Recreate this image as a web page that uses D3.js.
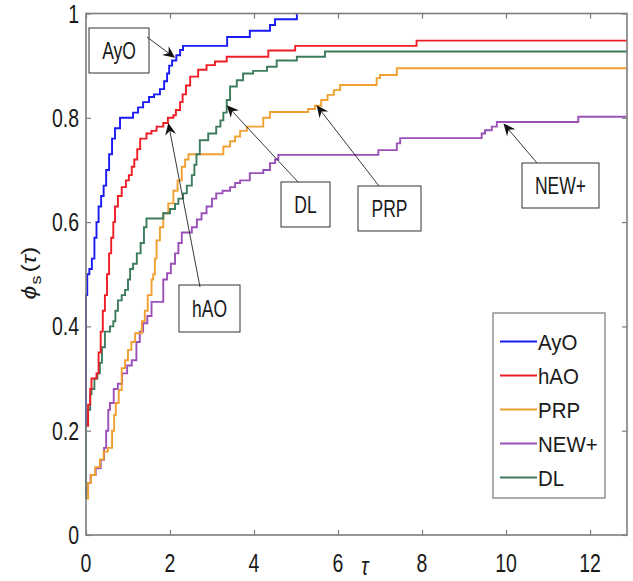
<!DOCTYPE html>
<html>
<head>
<meta charset="utf-8">
<script src="https://cdn.jsdelivr.net/npm/d3@7/dist/d3.min.js"></script>
<style>
  body { margin: 0; background: #fff; }
  text { font-family: "Liberation Sans", Arial, sans-serif; fill: #1a1a1a; }
</style>
</head>
<body>
<svg id="chart" width="633" height="581"></svg>
<script>
// performance profiles
var names = ["AyO", "hAO", "PRP", "NEW+", "DL"];

var ayoTau = [0, 0, 0.03, 0.08, 0.14, 0.2, 0.25, 0.3, 0.36, 0.42, 0.48, 0.55, 0.62, 0.69, 0.81, 1.12, 1.24, 1.36, 1.5, 1.62, 1.76, 1.86, 1.93, 1.98, 2.05, 2.15, 2.24, 2.31, 3.36, 3.9, 4.38, 4.5, 5.02];
var ayoPhi = [0.21, 0.46, 0.5, 0.51, 0.53, 0.57, 0.6, 0.63, 0.65, 0.67, 0.7, 0.73, 0.76, 0.78, 0.8, 0.81, 0.82, 0.83, 0.84, 0.845, 0.855, 0.87, 0.885, 0.9, 0.91, 0.92, 0.93, 0.938, 0.955, 0.967, 0.978, 0.989, 1.0];

var haoTau = [0, 0.05, 0.1, 0.13, 0.25, 0.3, 0.35, 0.4, 0.45, 0.5, 0.55, 0.6, 0.65, 0.69, 0.76, 0.85, 0.95, 1.02, 1.09, 1.15, 1.22, 1.29, 1.44, 1.56, 1.68, 1.84, 1.95, 2.08, 2.14, 2.24, 2.3, 2.38, 2.48, 2.67, 2.87, 3.07, 3.35, 4.34, 4.98, 7.87, 12.88];
var haoPhi = [0.21, 0.25, 0.28, 0.3, 0.31, 0.35, 0.39, 0.43, 0.46, 0.5, 0.54, 0.57, 0.6, 0.63, 0.65, 0.667, 0.68, 0.69, 0.706, 0.72, 0.74, 0.76, 0.77, 0.775, 0.783, 0.79, 0.8, 0.805, 0.815, 0.83, 0.845, 0.862, 0.879, 0.892, 0.901, 0.908, 0.917, 0.929, 0.938, 0.948, 0.948];

var prpTau = [0, 0.05, 0.12, 0.22, 0.33, 0.42, 0.52, 0.62, 0.67, 0.71, 0.78, 0.85, 0.93, 1.0, 1.08, 1.17, 1.33, 1.4, 1.47, 1.56, 1.6, 1.64, 1.68, 1.76, 1.84, 1.96, 2.08, 2.18, 2.28, 2.36, 2.44, 3.27, 3.43, 3.55, 3.67, 3.83, 4.22, 4.38, 5.29, 5.45, 5.6, 5.75, 5.9, 6.05, 6.92, 7.0, 7.4, 12.88];
var prpPhi = [0.07, 0.1, 0.115, 0.13, 0.145, 0.16, 0.167, 0.2, 0.23, 0.253, 0.278, 0.32, 0.335, 0.355, 0.37, 0.387, 0.41, 0.43, 0.46, 0.49, 0.5, 0.53, 0.565, 0.59, 0.617, 0.636, 0.66, 0.68, 0.706, 0.72, 0.73, 0.745, 0.755, 0.764, 0.775, 0.783, 0.8, 0.811, 0.817, 0.823, 0.834, 0.844, 0.853, 0.863, 0.876, 0.882, 0.895, 0.895];

var newTau = [0, 0.05, 0.11, 0.23, 0.35, 0.43, 0.48, 0.53, 0.57, 0.66, 0.76, 0.86, 0.98, 1.09, 1.2, 1.28, 1.36, 1.46, 1.56, 1.84, 1.93, 2.02, 2.12, 2.2, 2.28, 2.52, 2.64, 2.75, 2.87, 3.0, 3.1, 3.25, 3.43, 3.55, 3.67, 3.9, 4.22, 4.38, 4.5, 4.58, 6.96, 7.4, 7.48, 9.42, 9.5, 9.66, 9.78, 11.72, 12.88];
var newPhi = [0.08, 0.1, 0.115, 0.128, 0.144, 0.167, 0.2, 0.24, 0.253, 0.28, 0.29, 0.31, 0.325, 0.335, 0.37, 0.39, 0.406, 0.42, 0.447, 0.49, 0.502, 0.52, 0.54, 0.56, 0.58, 0.59, 0.605, 0.617, 0.63, 0.645, 0.655, 0.66, 0.667, 0.675, 0.68, 0.694, 0.7, 0.713, 0.72, 0.729, 0.738, 0.751, 0.761, 0.77, 0.776, 0.783, 0.792, 0.802, 0.802];

var dlTau = [0, 0, 0.05, 0.1, 0.13, 0.2, 0.27, 0.33, 0.38, 0.45, 0.57, 0.65, 0.7, 0.76, 0.85, 0.93, 1.0, 1.05, 1.12, 1.21, 1.3, 1.38, 1.44, 1.84, 2.0, 2.12, 2.2, 2.31, 2.4, 2.52, 2.58, 2.63, 2.71, 2.91, 3.1, 3.2, 3.27, 3.35, 3.43, 3.59, 3.74, 3.98, 4.31, 4.54, 5.02, 5.69, 12.88];
var dlPhi = [0.07, 0.21, 0.24, 0.27, 0.28, 0.3, 0.31, 0.33, 0.36, 0.39, 0.4, 0.41, 0.43, 0.45, 0.46, 0.47, 0.49, 0.51, 0.52, 0.54, 0.56, 0.59, 0.607, 0.617, 0.625, 0.635, 0.645, 0.655, 0.67, 0.69, 0.71, 0.73, 0.757, 0.77, 0.783, 0.795, 0.81, 0.834, 0.86, 0.872, 0.885, 0.89, 0.898, 0.91, 0.917, 0.927, 0.927];

var xTicks = [0, 2, 4, 6, 8, 10, 12];
var yTicks = [0, 0.2, 0.4, 0.6, 0.8, 1];
var yTickLabels = ["0", "0.2", "0.4", "0.6", "0.8", "1"];

// arrows of the text boxes point at these curve points
var noteNames = ["AyO", "hAO", "DL", "PRP", "NEW+"];
var noteTau = [2.12, 1.96, 3.35, 5.49, 9.94];
var notePhi = [0.915, 0.79, 0.824, 0.824, 0.789];

var colors = d3.scaleOrdinal()
  .domain(names)
  .range(["#1a1af5", "#ee1c24", "#f0a030", "#9a50b8", "#3c7c5c"]);

var series = [
  { name: "AyO", tau: ayoTau, phi: ayoPhi },
  { name: "hAO", tau: haoTau, phi: haoPhi },
  { name: "PRP", tau: prpTau, phi: prpPhi },
  { name: "NEW+", tau: newTau, phi: newPhi },
  { name: "DL", tau: dlTau, phi: dlPhi }
];

var svg = d3.select('#chart');
var plotL = 86, plotR = 627, plotT = 13.5, plotB = 535;
var squeeze = 0.78; // the picture's lettering is narrow

var x = d3.scaleLinear().domain([0, 12.88]).range([plotL, plotR]);
var y = d3.scaleLinear().domain([0, 1]).range([plotB, plotT]);

var line = d3.line()
  .curve(d3.curveStepAfter)
  .x(function(d) { return x(d[0]); })
  .y(function(d) { return y(d[1]); });

// draw the ones in the back first
var order = ["NEW+", "PRP", "DL", "hAO", "AyO"];
svg.append('g')
  .selectAll('path')
  .data(order.map(function(n) { return series[names.indexOf(n)]; }))
  .enter().append('path')
  .attr('d', function(s) {
    return line(s.tau.map(function(t, i) { return [t, s.phi[i]]; }));
  })
  .style('fill', 'none')
  .style('stroke', function(s) { return colors(s.name); })
  .style('stroke-width', 1.9);

// frame and inward ticks on all sides
var frameColor = '#7d7d7d';
svg.append('g').attr('transform', 'translate(0,' + plotB + ')')
  .call(d3.axisBottom(x).tickValues(xTicks).tickSize(-5).tickFormat(''));
svg.append('g').attr('transform', 'translate(0,' + plotT + ')')
  .call(d3.axisTop(x).tickValues(xTicks).tickSize(-5).tickFormat(''));
svg.append('g').attr('transform', 'translate(' + plotL + ',0)')
  .call(d3.axisLeft(y).tickValues(yTicks).tickSize(-5).tickFormat(''));
svg.append('g').attr('transform', 'translate(' + plotR + ',0)')
  .call(d3.axisRight(y).tickValues(yTicks).tickSize(-5).tickFormat(''));
svg.selectAll('.domain').remove();
svg.selectAll('.tick line').style('stroke', frameColor).style('stroke-width', 1.2);
svg.append('rect')
  .attr('x', plotL).attr('y', plotT)
  .attr('width', plotR - plotL).attr('height', plotB - plotT)
  .style('fill', 'none')
  .style('stroke', frameColor)
  .style('stroke-width', 1.6);

// tick labels
svg.append('g').selectAll('text')
  .data(xTicks)
  .enter().append('text')
  .attr('transform', function(d) { return 'translate(' + x(d) + ',572) scale(' + squeeze + ',1)'; })
  .attr('text-anchor', 'middle')
  .style('font-size', '25px')
  .text(function(d) { return d; });

svg.append('g').selectAll('text')
  .data(yTicks)
  .enter().append('text')
  .attr('transform', function(d) { return 'translate(79,' + (y(d) + 9) + ') scale(' + squeeze + ',1)'; })
  .attr('text-anchor', 'end')
  .style('font-size', '25px')
  .text(function(d, i) { return yTickLabels[i]; });

// axis titles
svg.append('text')
  .attr('transform', 'translate(365,575) scale(' + squeeze + ',1)')
  .attr('text-anchor', 'middle')
  .style('font-size', '25px')
  .style('font-style', 'italic')
  .text('\u03c4');

var ylab = svg.append('text')
  .attr('transform', 'translate(36,273) scale(' + squeeze + ',1) rotate(-90)')
  .attr('text-anchor', 'middle')
  .style('font-size', '25px');
ylab.append('tspan').style('font-style', 'italic').text('\u03d5');
ylab.append('tspan').attr('dy', 6).attr('dx', 1).style('font-size', '18px').text('s');
ylab.append('tspan').attr('dy', -6).attr('dx', 3).text('(');
ylab.append('tspan').style('font-style', 'italic').text('\u03c4');
ylab.append('tspan').text(')');

// annotation boxes: [x, y, w, h] in pixels, and where the arrow leaves the box
var boxes = {
  "AyO": { r: [89, 28, 60, 45], from: [147, 37] },
  "hAO": { r: [179, 285, 61, 47], from: [200, 287] },
  "DL": { r: [281, 182, 49, 45], from: [298, 182] },
  "PRP": { r: [358, 186, 63, 45], from: [379, 186] },
  "NEW+": { r: [522, 163, 77, 45], from: [537, 163] }
};

var notes = svg.append('g');
noteNames.forEach(function(n, i) {
  var b = boxes[n];
  var tx = x(noteTau[i]), ty = y(notePhi[i]);
  var fx = b.from[0], fy = b.from[1];
  var len = Math.sqrt((tx - fx) * (tx - fx) + (ty - fy) * (ty - fy));
  var ux = (tx - fx) / len, uy = (ty - fy) / len;
  var nx = -uy, ny = ux;
  var bx = tx - 12 * ux, by = ty - 12 * uy;
  var kx = tx - 8 * ux, ky = ty - 8 * uy;

  notes.append('line')
    .attr('x1', fx).attr('y1', fy)
    .attr('x2', kx).attr('y2', ky)
    .style('stroke', '#222')
    .style('stroke-width', 0.9);
  notes.append('path')
    .attr('d', 'M' + tx + ',' + ty +
      'L' + (bx + 5.5 * nx) + ',' + (by + 5.5 * ny) +
      'L' + kx + ',' + ky +
      'L' + (bx - 5.5 * nx) + ',' + (by - 5.5 * ny) + 'Z')
    .style('fill', '#111');

  notes.append('rect')
    .attr('x', b.r[0]).attr('y', b.r[1])
    .attr('width', b.r[2]).attr('height', b.r[3])
    .style('fill', 'none')
    .style('stroke', '#333')
    .style('stroke-width', 1);
  notes.append('text')
    .attr('transform', 'translate(' + (b.r[0] + b.r[2] / 2) + ',' + (b.r[1] + b.r[3] / 2 + 8.5) + ') scale(0.73,1)')
    .attr('text-anchor', 'middle')
    .style('font-size', '24px')
    .text(n);
});

// legend
var legend = svg.append('g');
legend.append('rect')
  .attr('x', 493).attr('y', 313)
  .attr('width', 112).attr('height', 185)
  .style('fill', '#fff')
  .style('stroke', '#777')
  .style('stroke-width', 1.2);

var legendY = d3.scalePoint().domain(names).range([341.5, 477.5]);
var items = legend.selectAll('.item')
  .data(names)
  .enter().append('g')
  .attr('class', 'item');
items.append('line')
  .attr('x1', 500).attr('x2', 537)
  .attr('y1', function(d) { return legendY(d); })
  .attr('y2', function(d) { return legendY(d); })
  .style('stroke', function(d) { return colors(d); })
  .style('stroke-width', 1.8);
items.append('text')
  .attr('transform', function(d) { return 'translate(538,' + (legendY(d) + 8) + ') scale(0.93,1)'; })
  .style('font-size', '22px')
  .text(function(d) { return d; });
</script>
</body>
</html>
